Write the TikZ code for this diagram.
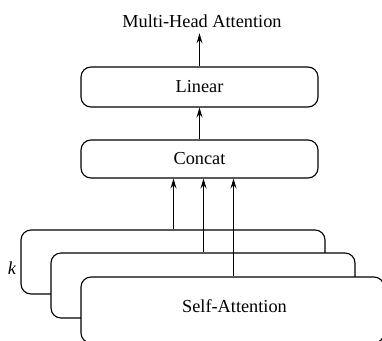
\documentclass[tikz,border=0pt]{standalone}
\usepackage{fontspec}
\setmainfont{Liberation Serif}
\usetikzlibrary{arrows.meta}
\begin{document}
\begin{tikzpicture}[x=1pt,y=-1pt,
  lbl/.style={font=\fontsize{18.3}{22}\selectfont},
  blk/.style={draw, line width=1.1pt, rounded corners=10pt, fill=white, inner sep=0pt},
  arr/.style={line width=1.1pt, -{Stealth[length=10pt,width=6pt,inset=3.5pt]}}]
  \useasboundingbox (0,0) rectangle (382,340);
  \clip (0,0) rectangle (382,340);
  \fill[white] (0,0) rectangle (382,340);

  % output label
  \node[lbl, inner xsep=0pt, inner ysep=6pt, anchor=base] (out) at (202,27) {Multi-Head Attention};

  % Linear and Concat layers
  \node[blk, lbl, minimum width=237pt, minimum height=40pt] (linear) at (199.5,87) {Linear};
  \node[blk, lbl, minimum width=237pt, minimum height=38pt] (concat) at (199.5,159) {Concat};

  % stacked self-attention heads, back to front
  \node[blk, minimum width=304pt, minimum height=64pt] (h1) at (173,262) {};
  \node[blk, minimum width=304pt, minimum height=65pt] (h2) at (203,285.5) {};
  \node[blk, minimum width=303pt, minimum height=66pt] (h3) at (232.5,310) {};
  \node[lbl] (sa) at (234.5,306) {Self-Attention};
  \node[lbl, font=\fontsize{18.3}{22}\selectfont\itshape] (k) at (12,268) {k};

  % connectors
  \draw[arr] (linear.north) -- (linear.north |- out.south);
  \draw[arr] (concat.north) -- (linear.south);
  \draw[arr] (h1.north -| 173.5,0) -- (concat.south -| 173.5,0);
  \draw[arr] (h2.north -| 203.5,0) -- (concat.south -| 203.5,0);
  \draw[arr] (h3.north -| 233.5,0) -- (concat.south -| 233.5,0);
\end{tikzpicture}
\end{document}
